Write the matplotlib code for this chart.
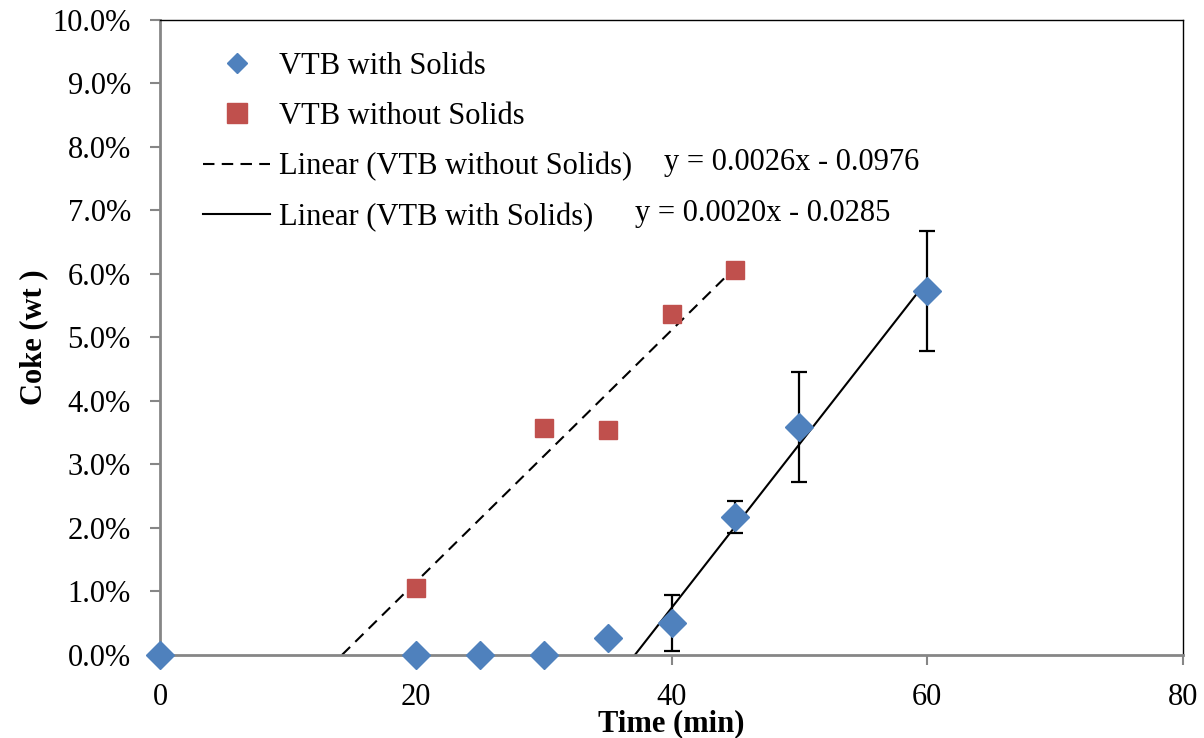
import numpy as np
import matplotlib
matplotlib.use("Agg")
import matplotlib.pyplot as plt
from matplotlib.lines import Line2D
from matplotlib.ticker import FuncFormatter

plt.rcParams['font.family'] = ['Liberation Serif', 'DejaVu Serif']

# ==== data (fractions) ====
t_with = [0, 20, 25, 30, 35, 40, 45, 50, 60]
coke_with = [0.0, 0.0, 0.0, 0.0, 0.0027, 0.0050, 0.0217, 0.0359, 0.0573]
err_with = [0, 0, 0, 0, 0, 0.0044, 0.0025, 0.0087, 0.0095]

t_without = [20, 30, 35, 40, 45]
coke_without = [0.0106, 0.0357, 0.0355, 0.0537, 0.0607]

eq_without = "y = 0.0026x - 0.0976"
eq_with = "y = 0.0020x - 0.0285"

blue = "#4F81BD"
red = "#C0504D"
grey = "#868686"

fig = plt.figure(figsize=(12.04, 7.38), dpi=100)
ax = fig.add_axes([0.1329, 0.1125, 0.8497, 0.8604])

# trendlines (least squares, as in the spreadsheet)
m1, b1 = np.polyfit(t_without, coke_without, 1)
x1 = np.array([-b1 / m1, max(t_without)])
ax.plot(x1, m1 * x1 + b1, color="black", lw=1.5, ls=(0, (5.5, 3.5)), zorder=2)

tw = np.array(t_with)
cw = np.array(coke_with)
mask = tw >= 40
m2, b2 = np.polyfit(tw[mask], cw[mask], 1)
x2 = np.array([-b2 / m2, tw.max()])
ax.plot(x2, m2 * x2 + b2, color="black", lw=1.5, zorder=2)

# markers
ax.errorbar(t_with, coke_with, yerr=err_with, fmt="none", ecolor="black",
            elinewidth=1.6, capsize=6, capthick=1.6, zorder=3)
ax.plot(t_with, coke_with, ls="none", marker="D", ms=14.5, color=blue,
        mec=blue, zorder=4, clip_on=False)
ax.plot(t_without, coke_without, ls="none", marker="s", ms=13, color=red,
        mec=red, zorder=4, clip_on=False)

ax.set_xlim(0, 80)
ax.set_ylim(0, 0.10)
ax.set_xticks([0, 20, 40, 60, 80])
ax.set_yticks(np.arange(0, 0.1001, 0.01))
ax.yaxis.set_major_formatter(FuncFormatter(lambda v, p: f"{v*100:.1f}%"))

for s in ["left", "bottom"]:
    ax.spines[s].set_color(grey)
    ax.spines[s].set_linewidth(2)
for s in ["top", "right"]:
    ax.spines[s].set_color("black")
    ax.spines[s].set_linewidth(1)
ax.tick_params(axis="both", direction="out", color=grey, width=1.5,
               length=7, labelsize=22)
ax.tick_params(axis="y", pad=14)
ax.tick_params(axis="x", pad=13)

ax.set_xlabel("Time (min)", fontsize=22, fontweight="bold", labelpad=-2)
ax.set_ylabel("Coke (wt )", fontsize=22, fontweight="bold", labelpad=3)

# legend
handles = [
    Line2D([], [], ls="none", marker="D", ms=10, color=blue),
    Line2D([], [], ls="none", marker="s", ms=14, color=red),
    Line2D([], [], color="black", lw=1.5, ls=(0, (5.5, 3.5))),
    Line2D([], [], color="black", lw=1.5),
]
labels = ["VTB with Solids", "VTB without Solids",
          "Linear (VTB without Solids)", "Linear (VTB with Solids)"]
ax.legend(handles, labels, loc="upper left", bbox_to_anchor=(0.030, 0.969),
          frameon=False, fontsize=22, handlelength=2.2, handletextpad=0.3,
          labelspacing=0.69, borderaxespad=0)

ax.text(0.4927, 0.775, eq_without, transform=ax.transAxes, fontsize=22,
        va="center", ha="left")
ax.text(0.4643, 0.696, eq_with, transform=ax.transAxes, fontsize=22,
        va="center", ha="left")

fig.savefig("out.png", dpi=100)
